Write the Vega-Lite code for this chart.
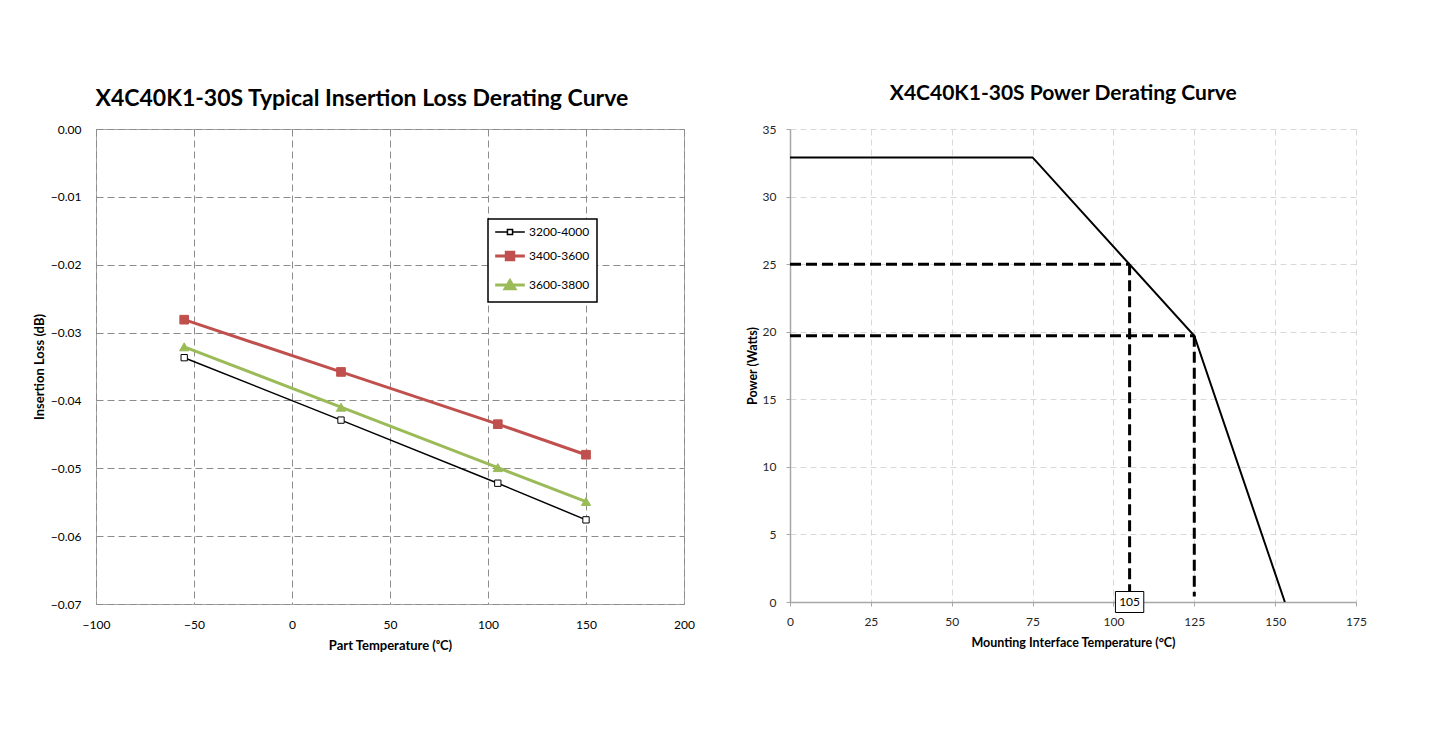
{
  "$schema": "https://vega.github.io/schema/vega-lite/v6.json",
  "padding": {"left": 32, "top": 83, "right": 5, "bottom": 5},
  "background": "white",
  "spacing": 51,
  "config": {"font": "Lato", "view": {"stroke": null}, "title": {"fontWeight": "bold", "color": "black"}},
  "datasets": {
    "loss": [
      {"series": "3200-4000", "temp": -55, "loss": -0.0337},
      {"series": "3200-4000", "temp": 25, "loss": -0.0429},
      {"series": "3200-4000", "temp": 105, "loss": -0.0522},
      {"series": "3200-4000", "temp": 150, "loss": -0.0576},
      {"series": "3400-3600", "temp": -55, "loss": -0.0281},
      {"series": "3400-3600", "temp": 25, "loss": -0.0358},
      {"series": "3400-3600", "temp": 105, "loss": -0.0435},
      {"series": "3400-3600", "temp": 150, "loss": -0.0480},
      {"series": "3600-3800", "temp": -55, "loss": -0.0321},
      {"series": "3600-3800", "temp": 25, "loss": -0.0410},
      {"series": "3600-3800", "temp": 105, "loss": -0.0499},
      {"series": "3600-3800", "temp": 150, "loss": -0.0549}
    ],
    "power": [
      {"temp": 0, "power": 32.9},
      {"temp": 75, "power": 32.9},
      {"temp": 125, "power": 19.7},
      {"temp": 153, "power": 0}
    ],
    "guides": [
      {"temp": 0, "temp2": 105, "power": 25, "power2": 25},
      {"temp": 105, "temp2": 105, "power": 25, "power2": 0},
      {"temp": 0, "temp2": 125, "power": 19.7, "power2": 19.7},
      {"temp": 125, "temp2": 125, "power": 19.7, "power2": 0.4}
    ],
    "label": [{"temp": 105, "power": 0, "text": "105"}]
  },
  "hconcat": [
    {
      "width": 588,
      "height": 475,
      "title": {"text": "X4C40K1-30S Typical Insertion Loss Derating Curve", "fontSize": 23, "anchor": "middle", "frame": "bounds", "offset": 12, "dx": -2},
      "view": {"stroke": "#a6a6a6"},
      "data": {"name": "loss"},
      "encoding": {
        "x": {
          "field": "temp", "type": "quantitative",
          "scale": {"domain": [-100, 200], "nice": false},
          "axis": {
            "values": [-100, -50, 0, 50, 100, 150, 200],
            "grid": true, "gridDash": [7, 4], "gridColor": "#8c8c8c", "gridWidth": 1,
            "ticks": false, "domain": false,
            "labelFontSize": 12, "labelColor": "black", "labelPadding": 15, "labelFlush": false,
            "title": "Part Temperature (ᵒC)", "titleFontSize": 13, "titleFontWeight": "bold", "titleColor": "black", "titlePadding": 9
          }
        },
        "y": {
          "field": "loss", "type": "quantitative",
          "scale": {"domain": [-0.07, 0], "nice": false},
          "axis": {
            "values": [0, -0.01, -0.02, -0.03, -0.04, -0.05, -0.06, -0.07],
            "format": ".2f",
            "grid": true, "gridDash": [7, 4], "gridColor": "#8c8c8c", "gridWidth": 1,
            "ticks": false, "domain": false,
            "labelFontSize": 12, "labelColor": "black", "labelPadding": 15, "labelFlush": false,
            "title": "Insertion Loss (dB)", "titleFontSize": 13, "titleFontWeight": "bold", "titleColor": "black", "titlePadding": 4
          }
        }
      },
      "layer": [
        {
          "mark": {"type": "line"},
          "encoding": {
            "color": {
              "field": "series", "type": "nominal",
              "scale": {"domain": ["3200-4000", "3400-3600", "3600-3800"], "range": ["black", "#C0504D", "#9BBB59"]},
              "legend": {
                "title": null, "orient": "none", "legendX": 392, "legendY": 90,
                "strokeColor": "black", "fillColor": "white", "padding": 7,
                "labelFontSize": 12, "labelColor": "black", "labelOffset": 13,
                "symbolSize": 130, "symbolOffset": 9, "rowPadding": 8,
                "encode": {
                  "symbols": {
                    "update": {
                      "shape": {"signal": "datum.value === '3200-4000' ? 'M-2.6,0H-0.45M0.45,0H2.6M-0.45,-0.45H0.45V0.45H-0.45Z' : datum.value === '3400-3600' ? 'M-2.6,0H2.6M-0.65,-0.65H0.65V0.65H-0.65Z' : 'M-2.6,0H2.6M0,-0.75L0.85,0.65H-0.85Z'"},
                      "fill": {"signal": "datum.value === '3200-4000' ? 'white' : datum.value === '3400-3600' ? '#C0504D' : '#9BBB59'"},
                      "stroke": {"signal": "datum.value === '3200-4000' ? 'black' : datum.value === '3400-3600' ? '#C0504D' : '#9BBB59'"},
                      "strokeWidth": {"signal": "datum.value === '3200-4000' ? 1.5 : 3"},
                      "opacity": {"value": 1},
                      "fillOpacity": {"value": 1}
                    }
                  },
                  "legend": {"update": {"strokeWidth": {"value": 1.5}}}
                }
              }
            },
            "strokeWidth": {"condition": {"test": "datum.series === '3200-4000'", "value": 1.5}, "value": 3}
          }
        },
        {
          "mark": {"type": "point", "opacity": 1},
          "encoding": {
            "shape": {"condition": {"test": "datum.series === '3600-3800'", "value": "triangle-up"}, "value": "square"},
            "size": {"condition": [{"test": "datum.series === '3200-4000'", "value": 40}, {"test": "datum.series === '3400-3600'", "value": 75}], "value": 85},
            "fill": {"condition": [{"test": "datum.series === '3200-4000'", "value": "white"}, {"test": "datum.series === '3400-3600'", "value": "#C0504D"}], "value": "#9BBB59"},
            "stroke": {"condition": [{"test": "datum.series === '3200-4000'", "value": "black"}, {"test": "datum.series === '3400-3600'", "value": "#C0504D"}], "value": "#9BBB59"},
            "strokeWidth": {"value": 1},
            "fillOpacity": {"value": 1}
          }
        }
      ]
    },
    {
      "width": 566,
      "height": 473,
      "title": {"text": "X4C40K1-30S Power Derating Curve", "fontSize": 21, "anchor": "middle", "frame": "bounds", "offset": 19, "dx": 7},
      "layer": [
        {
          "data": {"name": "guides"},
          "mark": {"type": "rule", "strokeDash": [11, 5], "strokeWidth": 3, "color": "black"},
          "encoding": {
            "x": {
              "field": "temp", "type": "quantitative",
              "scale": {"domain": [0, 175], "nice": false},
              "axis": {
                "values": [0, 25, 50, 75, 100, 125, 150, 175],
                "grid": true, "gridDash": [6, 4], "gridColor": "#d9d9d9", "gridWidth": 1,
                "ticks": true, "tickSize": 4, "tickColor": "#a6a6a6", "domain": true, "domainColor": "#a6a6a6", "domainWidth": 1.5,
                "labelFontSize": 12, "labelColor": "#262626", "labelPadding": 10, "labelFlush": false,
                "title": "Mounting Interface Temperature (°C)", "titleFontSize": 12.5, "titleFontWeight": "bold", "titleColor": "black", "titlePadding": 9
              }
            },
            "x2": {"field": "temp2"},
            "y": {
              "field": "power", "type": "quantitative",
              "scale": {"domain": [0, 35], "nice": false},
              "axis": {
                "values": [0, 5, 10, 15, 20, 25, 30, 35],
                "grid": true, "gridDash": [6, 4], "gridColor": "#d9d9d9", "gridWidth": 1,
                "ticks": true, "tickSize": 4, "tickColor": "#a6a6a6", "domain": true, "domainColor": "#a6a6a6", "domainWidth": 1.5,
                "labelFontSize": 12, "labelColor": "#262626", "labelPadding": 10, "labelFlush": false,
                "title": "Power (Watts)", "titleFontSize": 12.5, "titleFontWeight": "bold", "titleColor": "black", "titlePadding": 3
              }
            },
            "y2": {"field": "power2"}
          }
        },
        {
          "data": {"name": "power"},
          "mark": {"type": "line", "color": "black", "strokeWidth": 2},
          "encoding": {
            "x": {"field": "temp", "type": "quantitative"},
            "y": {"field": "power", "type": "quantitative"}
          }
        },
        {
          "data": {"name": "label"},
          "mark": {"type": "point", "shape": "M-1.35,-1H1.35V1H-1.35Z", "size": 441, "filled": true, "fill": "white", "stroke": "black", "strokeWidth": 1, "opacity": 1},
          "encoding": {
            "x": {"field": "temp", "type": "quantitative"},
            "y": {"field": "power", "type": "quantitative"}
          }
        },
        {
          "data": {"name": "label"},
          "mark": {"type": "text", "fontSize": 12, "color": "black", "align": "center", "baseline": "middle"},
          "encoding": {
            "x": {"field": "temp", "type": "quantitative"},
            "y": {"field": "power", "type": "quantitative"},
            "text": {"field": "text"}
          }
        }
      ]
    }
  ]
}
